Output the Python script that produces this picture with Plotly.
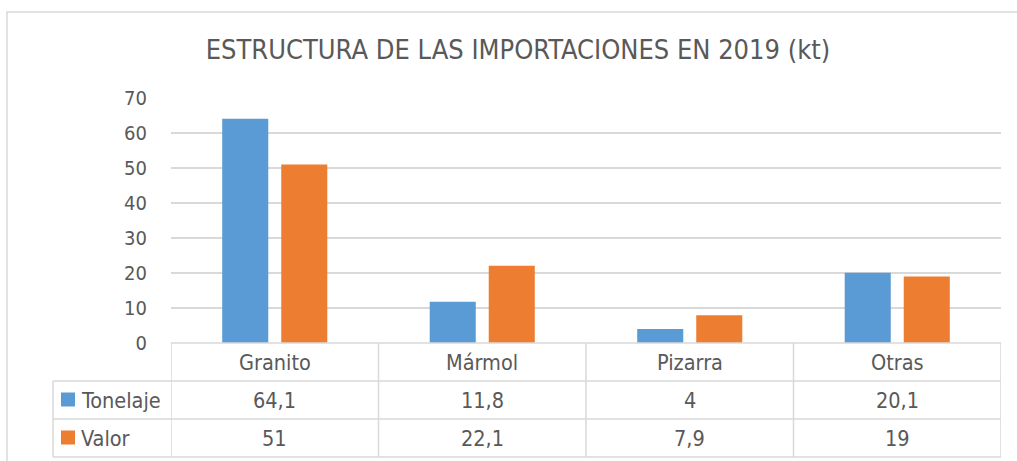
import plotly.graph_objects as go

categories = ["Granito", "Mármol", "Pizarra", "Otras"]
series_names = ["Tonelaje", "Valor"]
tonelaje = [64.1, 11.8, 4, 20.1]
valor = [51, 22.1, 7.9, 19]
y_ticks = [0, 10, 20, 30, 40, 50, 60, 70]
title_text = "ESTRUCTURA DE LAS IMPORTACIONES EN 2019 (kt)"

W, H = 1017, 461
BLUE, ORANGE = "#5B9BD5", "#ED7D31"
GRID = "#D9D9D9"
TXT = "#595959"
FONT = "DejaVu Sans Condensed, Noto Sans"
FS = 21.5
FS_TICK = 20


def px(x):
    return x / W


def py(y):
    return (H - y) / H


def fmt(v):
    s = ("%g" % v)
    return s.replace(".", ",")


fig = go.Figure()
for name, vals, col in [(series_names[0], tonelaje, BLUE), (series_names[1], valor, ORANGE)]:
    fig.add_trace(go.Bar(x=categories, y=vals, name=name, marker=dict(color=col, line=dict(width=0))))

# plot area pixel bounds
PL, PR = 171, 1001
Y0, Y70 = 343, 98
rows = [343, 381, 419, 457]
TL = 53

shapes = []
# outer border
shapes.append(dict(type="rect", xref="paper", yref="paper", x0=px(7), x1=px(1040), y0=py(12), y1=py(480),
                   line=dict(color=GRID, width=1.5), fillcolor="rgba(0,0,0,0)", layer="below"))
# horizontal table lines
shapes.append(dict(type="line", xref="x", yref="paper", x0=-0.5, x1=len(categories) - 0.5, y0=py(rows[0]), y1=py(rows[0]),
                   line=dict(color=GRID, width=1.5)))
for r in rows[1:]:
    shapes.append(dict(type="line", xref="paper", yref="paper", x0=px(TL), x1=px(PR), y0=py(r), y1=py(r),
                       line=dict(color=GRID, width=1.5)))
# vertical lines
shapes.append(dict(type="line", xref="paper", yref="paper", x0=px(TL), x1=px(TL), y0=py(rows[1]), y1=py(rows[3]),
                   line=dict(color=GRID, width=1.5)))
for i in range(len(categories) + 1):
    shapes.append(dict(type="line", xref="x", yref="paper", x0=i - 0.5, x1=i - 0.5, y0=py(rows[0]), y1=py(rows[3]),
                       line=dict(color=GRID, width=1.5)))
# legend keys
row_centers = [(rows[i] + rows[i + 1]) / 2 for i in range(3)]
for k, col in enumerate([BLUE, ORANGE]):
    cy = row_centers[k + 1] - 0.5
    shapes.append(dict(type="rect", xref="paper", yref="paper", x0=px(61), x1=px(75), y0=py(cy + 7), y1=py(cy - 7),
                       line=dict(width=0), fillcolor=col))

annotations = []
for i, c in enumerate(categories):
    annotations.append(dict(x=i, xref="x", y=py(row_centers[0]), yref="paper", text=c, showarrow=False,
                            xanchor="center", yanchor="middle", font=dict(family=FONT, size=FS, color=TXT)))
for k, vals in enumerate([tonelaje, valor]):
    annotations.append(dict(x=px(79), xref="paper", y=py(row_centers[k + 1]), yref="paper", text=series_names[k],
                            showarrow=False, xanchor="left", yanchor="middle", font=dict(family=FONT, size=FS, color=TXT)))
    for i, v in enumerate(vals):
        annotations.append(dict(x=i, xref="x", y=py(row_centers[k + 1]), yref="paper", text=fmt(v), showarrow=False,
                                xanchor="center", yanchor="middle", font=dict(family=FONT, size=FS, color=TXT)))

fig.update_layout(
    width=W, height=H,
    autosize=False,
    margin=dict(l=0, r=0, t=0, b=0, pad=0),
    paper_bgcolor="white", plot_bgcolor="white",
    showlegend=False,
    barmode="group", bargap=0.431, bargroupgap=0.22,
    title=dict(text=title_text, x=px(518), xanchor="center", y=py(50), yanchor="middle",
               xref="paper", yref="paper", automargin=False,
               font=dict(family=FONT, size=27, color=TXT)),
    xaxis=dict(domain=[px(PL), px(PR)], range=[-0.5, len(categories) - 0.5], showticklabels=False,
               showgrid=False, zeroline=False, showline=False, fixedrange=True, automargin=False),
    yaxis=dict(domain=[py(Y0), py(Y70)], range=[0, 70], tickvals=y_ticks, showgrid=True, gridcolor=GRID,
               gridwidth=1.5, zeroline=False, showline=False, ticks="", ticklabelstandoff=23, automargin=False,
               tickfont=dict(family=FONT, size=FS_TICK, color=TXT)),
    shapes=shapes, annotations=annotations,
)

post = "document.body.style.margin='0';document.body.style.overflow='hidden';document.documentElement.style.overflow='hidden';"
fig.write_html("out.html", config={"responsive": False, "displayModeBar": False}, post_script=post)
